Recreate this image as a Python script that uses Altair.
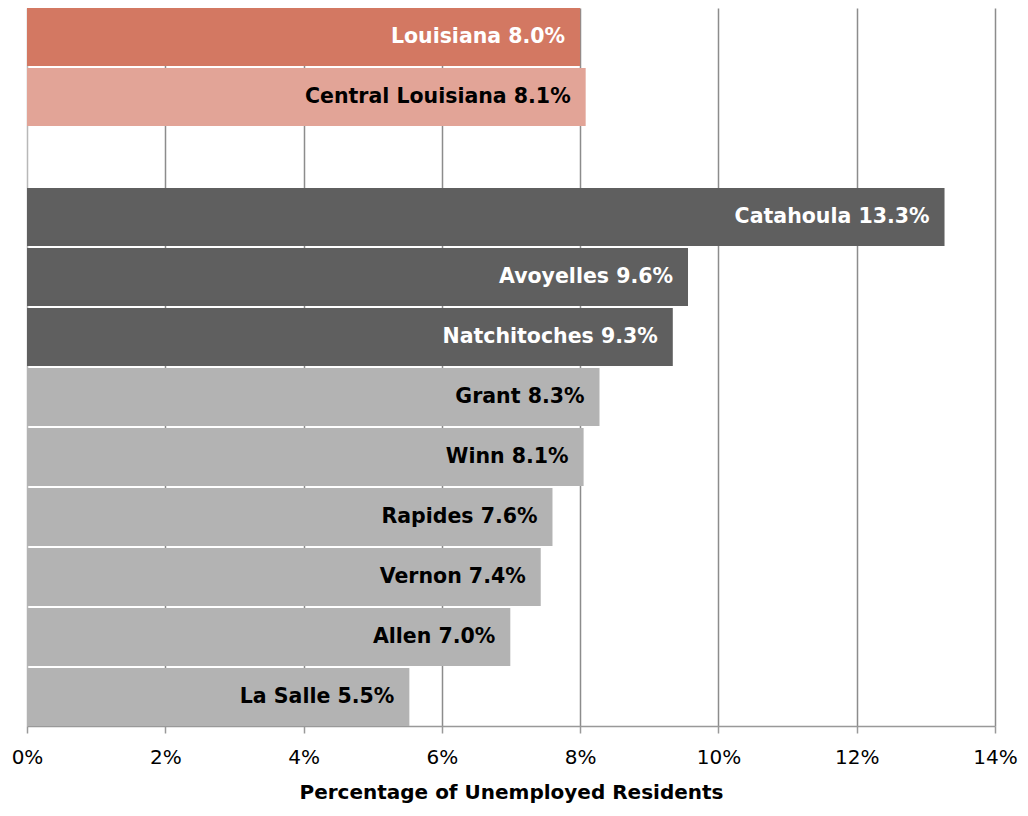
import altair as alt
import pandas as pd

names = ["Louisiana", "Central Louisiana", "Catahoula", "Avoyelles", "Natchitoches",
         "Grant", "Winn", "Rapides", "Vernon", "Allen", "La Salle"]
values = [8.0, 8.1, 13.3, 9.6, 9.3, 8.3, 8.1, 7.6, 7.4, 7.0, 5.5]
plotted = [8.0, 8.08, 13.27, 9.56, 9.34, 8.28, 8.05, 7.6, 7.43, 6.99, 5.53]
groups = ["state", "region", "high", "high", "high", "low", "low", "low", "low", "low", "low"]
group_colors = {"state": "#D37862", "region": "#E2A497", "high": "#5F5F5F", "low": "#B3B3B3"}
text_colors = {"state": "white", "region": "black", "high": "white", "low": "black"}

df = pd.DataFrame({
    "name": names,
    "value": plotted,
    "label": [f"{n} {v:.1f}%" for n, v in zip(names, values)],
    "group": groups,
})
df["tcolor"] = df["group"].map(text_colors)
df["frac"] = df["value"] / 100

order = names[:2] + ["gap"] + names[2:]
FONT = "DejaVu Sans"

y = alt.Y("name:N", sort=order, axis=None,
          scale=alt.Scale(domain=order, paddingInner=0.035, paddingOuter=0))
x = alt.X("frac:Q", scale=alt.Scale(domain=[0, 0.14], nice=False),
          axis=alt.Axis(format=".0%", values=[0, 0.02, 0.04, 0.06, 0.08, 0.10, 0.12, 0.14],
                        title="Percentage of Unemployed  Residents",
                        titleFont=FONT, titleFontSize=20, titleFontWeight="bold",
                        titleColor="black", titlePadding=15,
                        labelFont=FONT, labelFontSize=20, labelColor="black",
                        labelPadding=14, labelFlush=False, tickSize=7, tickColor="#999999",
                        domainColor="#999999", domainWidth=1.5, tickWidth=1.5,
                        grid=True, gridWidth=1.5,
                        gridColor=alt.condition("datum.value == 0", alt.value("#b8b8b8"), alt.value("#8c8c8c"))))

bars = alt.Chart(df).mark_bar(strokeWidth=0).encode(
    y=y, x=x,
    color=alt.Color("group:N", scale=alt.Scale(domain=list(group_colors.keys()),
                                               range=list(group_colors.values())), legend=None),
)

text = alt.Chart(df).mark_text(align="right", baseline="middle", dx=-15, font=FONT,
                               fontWeight="bold", fontSize=20.5).encode(
    y=alt.Y("name:N", sort=order, axis=None),
    x=alt.X("frac:Q"),
    text="label:N",
    color=alt.Color("tcolor:N", scale=None),
)

chart = (bars + text).properties(
    width=968, height=718,
    autosize=alt.AutoSizeParams(type="none"),
    padding={"left": 19, "top": 0, "right": 24, "bottom": 82},
).configure_view(stroke=None)

chart.save("out.html", embed_options={"renderer": "svg", "actions": False})
